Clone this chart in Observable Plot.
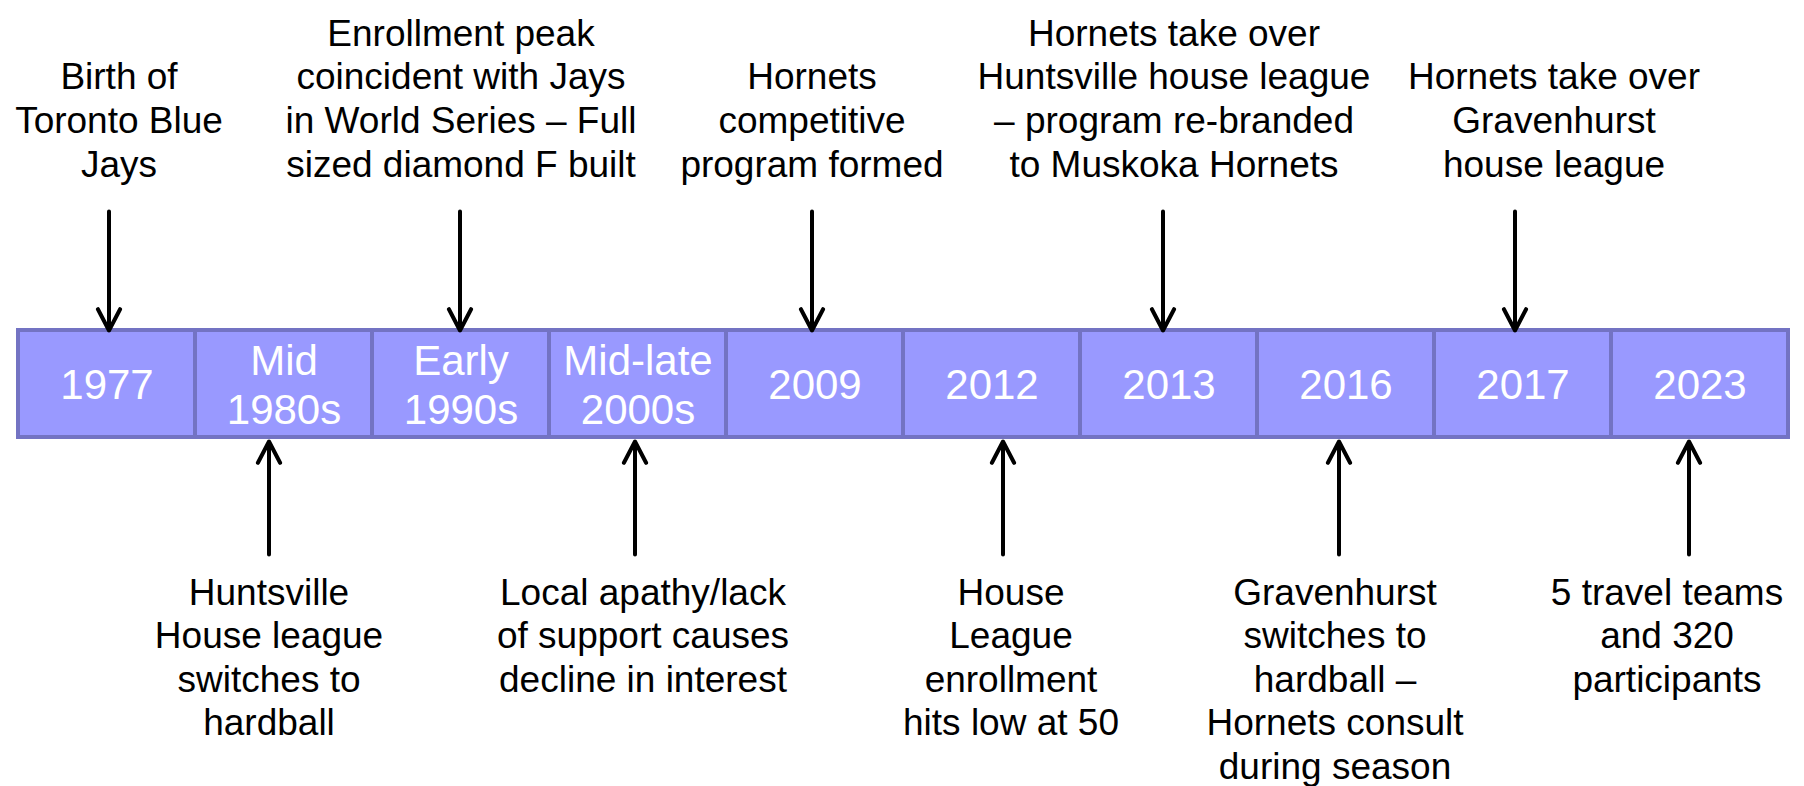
<!DOCTYPE html>
<html>
<head>
<meta charset="utf-8">
<script src="https://cdn.jsdelivr.net/npm/d3@7"></script>
<script src="https://cdn.jsdelivr.net/npm/@observablehq/plot@0.6"></script>
<style>
  html, body { margin: 0; padding: 0; background: #ffffff; }
  #chart { width: 1804px; height: 786px; }
</style>
</head>
<body>
<div id="chart"></div>
<script>
// ---- Data ----
const periods = ["1977", "Mid 1980s", "Early 1990s", "Mid-late 2000s", "2009", "2012", "2013", "2016", "2017", "2023"];
const periodLabels = ["1977", "Mid\n1980s", "Early\n1990s", "Mid-late\n2000s", "2009", "2012", "2013", "2016", "2017", "2023"];
const eventSides = ["above", "below", "above", "below", "above", "below", "above", "below", "above", "below"];
const eventTexts = [
  "Birth of\nToronto Blue\nJays",
  "Huntsville\nHouse league\nswitches to\nhardball",
  "Enrollment peak\ncoincident with Jays\nin World Series – Full\nsized diamond F built",
  "Local apathy/lack\nof support causes\ndecline in interest",
  "Hornets\ncompetitive\nprogram formed",
  "House\nLeague\nenrollment\nhits low at 50",
  "Hornets take over\nHuntsville house league\n– program re-branded\nto Muskoka Hornets",
  "Gravenhurst\nswitches to\nhardball –\nHornets consult\nduring season",
  "Hornets take over\nGravenhurst\nhouse league",
  "5 travel teams\nand 320\nparticipants"
];

// ---- Layout (page geometry, not data) ----
const W = 1804, H = 786;
const L = {
  left: 16, right: 1789,
  boxTop: 330, boxBottom: 437,
  topArrowTail: 211, topArrowTip: 330,
  bottomArrowTail: 554, bottomArrowTip: 441,
  topTextBaseline: 176,
  bottomTextTop: 573
};
// small horizontal nudges (px) of each event's arrow and caption from its box centre
const arrowNudge = [2, -15, -1, -3, -3, 11, -6, -7, -8, -11];
const textNudge  = [12, -15, 0, 5, -3, 19, 5, -11, 31, -33];

const table = periods.map((p, i) => ({period: p, label: periodLabels[i], side: eventSides[i], text: eventTexts[i], i}));

const eventMarks = table.flatMap(d => {
  const up = d.side === "above";
  return [
    Plot.arrow([d], {
      x: "period",
      y1: up ? L.topArrowTail : L.bottomArrowTail,
      y2: up ? L.topArrowTip : L.bottomArrowTip,
      dx: arrowNudge[d.i],
      stroke: "#000000", strokeWidth: 4, headLength: 9, headAngle: 55
    }),
    Plot.text([d], {
      x: "period",
      y: up ? L.topTextBaseline : L.bottomTextTop,
      dx: textNudge[d.i],
      text: "text",
      lineAnchor: up ? "bottom" : "top",
      fill: "#000000", fontSize: 37, lineHeight: 1.18
    })
  ];
});

const chart = Plot.plot({
  width: W,
  height: H,
  margin: 0,
  style: {fontFamily: "'Liberation Sans', Arial, Helvetica, sans-serif", background: "#ffffff"},
  x: {type: "band", domain: periods, range: [L.left, L.right], padding: 0, axis: null},
  y: {type: "linear", domain: [0, H], range: [0, H], axis: null},
  marks: [
    Plot.barY(table, {x: "period", y1: L.boxTop, y2: L.boxBottom, fill: "#9999ff", stroke: "#7373c3", strokeWidth: 4, inset: 0}),
    Plot.text(table, {x: "period", y: (L.boxTop + L.boxBottom) / 2, text: "label", fill: "#ffffff", fontSize: 42, lineHeight: 1.15}),
    ...eventMarks
  ]
});
document.getElementById("chart").appendChild(chart);
</script>
</body>
</html>
